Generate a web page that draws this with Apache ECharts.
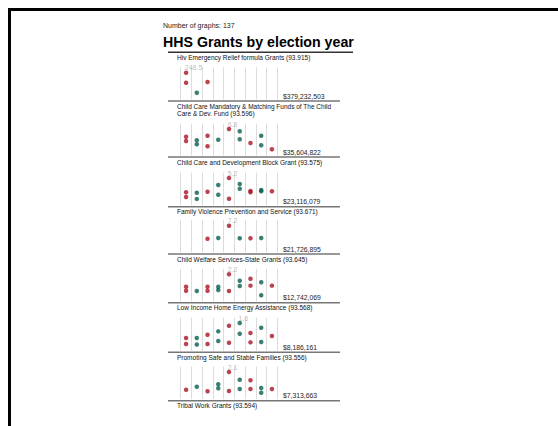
<!DOCTYPE html>
<html><head><meta charset="utf-8">
<script src="https://cdn.jsdelivr.net/npm/echarts@6/dist/echarts.min.js"></script>
<style>html,body{margin:0;padding:0;background:#fff}#c{width:558px;height:426px}</style>
</head><body><div id="c"></div>
<script>
// ---- data ----
const categories = ['E1','E2','E3','E4','E5','E6','E7','E8','E9'];
const panelTitles = [
  ['Hiv Emergency Relief formula Grants (93.915)'],
  ['Child Care Mandatory & Matching Funds of The Child','Care & Dev. Fund (93.596)'],
  ['Child Care and Development Block Grant (93.575)'],
  ['Family Violence Prevention and Service (93.671)'],
  ['Child Welfare Services-State Grants (93.645)'],
  ['Low Income Home Energy Assistance (93.568)'],
  ['Promoting Safe and Stable Families (93.556)'],
  ['Tribal Work Grants (93.594)']
];
const totals = ['$379,232,503','$35,604,822','$23,116,079','$21,726,895','$12,742,069','$8,186,161','$7,313,663'];
const hivValues = [[248.5,127],[6],[135],[],[],[],[],[],[]];
const ccMandatoryValues = [[4.25,2.82],[3.05,1.72],[4.58,1.06],[3.25],[6.8],[6.04,3.38],[2.16],[4.58,1.39],[0.07]];
const ccBlockValues = [[1.66,0.5],[1.56,0.02],[1.81],[3.47,1.06],[5.2,0.07],[3.71,2.55],[1.98,1.66],[2.23,1.91],[1.91]];
const familyViolenceValues = [[],[],[2.7],[2.94],[7.2],[2.84],[2.84],[2.94],[]];
const childWelfareValues = [[0.9,0.48],[0.45],[0.9,0.48],[0.9,0.56],[2.2,0.45],[1.53,0.97],[1.74,1.01],[1.36,0.0],[1.01]];
const lowIncomeValues = [[0.48,0.04],[0.48,0.0],[0.73,0.04],[0.98,0.26],[1.4,0.13],[1.6,0.8],[0.86,0.16],[1.25,0.19],[0.63]];
const safeFamiliesValues = [[0.3],[0.61],[0.14],[0.85,0.45],[2.1,0.17],[1.32,0.38],[1.26,0.38],[0.48,0.0],[0.38]];
const panelValues = [hivValues, ccMandatoryValues, ccBlockValues, familyViolenceValues, childWelfareValues, lowIncomeValues, safeFamiliesValues];

// ---- layout ----
const sepY = [52.3, 101, 157, 206.7, 254, 302.7, 352.3, 400.7];
const maxDotY = [72.7, 129, 178, 225.7, 274.3, 323, 372];
const zeroY = [93.2, 149.5, 199, 246.5, 295.3, 344.5, 392.7];
const RED = '#ab1323', TEAL = '#08604f';

const grids = [], xAxes = [], yAxes = [], series = [], graphics = [];
const FONT = '"Liberation Sans", Arial, sans-serif';

panelValues.forEach((vals, i) => {
  let M = -Infinity;
  vals.forEach(a => a.forEach(v => { if (v > M) M = v; }));
  const gTop = maxDotY[i] - 5.4;
  const gBottom = sepY[i + 1] - 1.5;
  const p = (zeroY[i] - maxDotY[i]) / M;
  const yMax = M + (maxDotY[i] - gTop) / p;
  const yMin = -(gBottom - zeroY[i]) / p;
  grids.push({ left: 180.7, width: 96.6, top: gTop, height: gBottom - gTop });
  xAxes.push({ type: 'category', gridIndex: i, data: categories, boundaryGap: true,
    axisLine: { show: false }, axisTick: { show: false, interval: 0 }, axisLabel: { show: false, interval: 0 },
    splitLine: { show: true, interval: 0, lineStyle: { color: '#dcdcdc', width: 1 } } });
  yAxes.push({ type: 'value', gridIndex: i, min: yMin, max: yMax, show: false, splitLine: { show: false } });
  const data = [];
  let maxDone = false;
  vals.forEach((arr, c) => arr.forEach(v => {
    const item = { value: [c, v], itemStyle: { color: c % 2 === 0 ? RED : TEAL } };
    if (v === M && !maxDone) {
      maxDone = true;
      item.label = { show: true, formatter: () => M.toFixed(1), position: [1, -6], align: 'left', verticalAlign: 'top',
        color: '#aaaaaa', fontSize: 7, fontFamily: FONT };
    }
    data.push(item);
  }));
  series.push({ type: 'scatter', xAxisIndex: i, yAxisIndex: i, symbolSize: 4.5, data, silent: true, animation: false, z: 3 });
  graphics.push({ type: 'text', left: 283, top: sepY[i + 1] - 8.3,
    style: { text: totals[i], fill: '#222', font: '6.8px ' + FONT } });
});

panelTitles.forEach((lines, i) => {
  lines.forEach((t, k) => {
    graphics.push({ type: 'text', left: 177, top: sepY[i] + 1.6 + k * 7.6,
      style: { text: t, fill: '#111', font: '6.5px ' + FONT } });
  });
});
// separators
sepY.forEach((y, i) => {
  graphics.push({ type: 'line', shape: { x1: 168, y1: y, x2: i === 0 ? 353 : 340, y2: y },
    style: { stroke: i === 0 ? '#333' : '#777', lineWidth: 1.5 } });
});
// header
graphics.push({ type: 'text', left: 163, top: 22, style: { text: 'Number of graphs: 137', fill: '#222', font: '7px ' + FONT } });
graphics.push({ type: 'text', left: 163, top: 34.5, style: { text: 'HHS Grants by election year', fill: '#000', font: 'bold 14.2px ' + FONT } });
// frame
graphics.push({ type: 'line', shape: { x1: 8, y1: 9.5, x2: 558, y2: 9.5 }, style: { stroke: '#000', lineWidth: 3 } });
graphics.push({ type: 'line', shape: { x1: 9.5, y1: 8, x2: 9.5, y2: 426 }, style: { stroke: '#000', lineWidth: 3 } });

const chart = echarts.init(document.getElementById('c'), null, { renderer: 'svg' });
chart.setOption({ animation: false, backgroundColor: '#fff', grid: grids, xAxis: xAxes, yAxis: yAxes, series, graphic: graphics });
</script></body></html>
